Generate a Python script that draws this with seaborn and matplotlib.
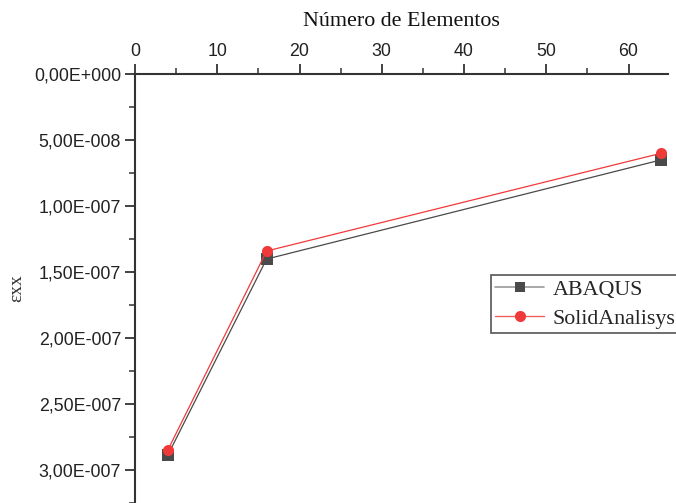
import matplotlib
matplotlib.use("Agg")
import matplotlib.pyplot as plt
from matplotlib.ticker import FuncFormatter, MultipleLocator
from matplotlib.lines import Line2D
import numpy as np
import pandas as pd
import seaborn as sns

# Mesh refinement study: strain εxx versus number of elements
elementos = [4, 16, 64]
abaqus = [2.886e-7, 1.402e-7, 6.50e-8]
solid = [2.848e-7, 1.341e-7, 6.00e-8]
series = ["ABAQUS", "SolidAnalisys"]

df = pd.DataFrame({
    "Elementos": elementos * 2,
    "exx": abaqus + solid,
    "Serie": [series[0]] * 3 + [series[1]] * 3,
})

sns.set_style("white")
plt.rcParams["font.family"] = ["Liberation Sans", "DejaVu Sans"]

fig = plt.figure(figsize=(6.76, 5.03), dpi=100)
ax = fig.add_axes([135 / 676, 0.0, 533 / 676, 1 - 74 / 503])

palette = {"ABAQUS": "#4a4a4a", "SolidAnalisys": "#f03a3a"}
markers = {"ABAQUS": "s", "SolidAnalisys": "o"}
sns.lineplot(data=df, x="Elementos", y="exx", hue="Serie", style="Serie",
             palette=palette, markers=markers, dashes=False, markersize=8,
             markeredgewidth=0, linewidth=0.9, ax=ax, legend=False)

ax.set_xlim(0, 64.8)
ax.set_ylim(3.25e-7, 0)

ax.xaxis.set_ticks_position("top")
ax.xaxis.set_label_position("top")
ax.xaxis.set_major_locator(MultipleLocator(10))
ax.xaxis.set_minor_locator(MultipleLocator(5))
ax.yaxis.set_major_locator(MultipleLocator(5e-8))
ax.yaxis.set_minor_locator(MultipleLocator(2.5e-8))


def sci_comma(v, pos):
    if abs(v) < 1e-20:
        return "0,00E+000"
    exp = int(np.floor(np.log10(abs(v))))
    mant = v / 10 ** exp
    sign = "+" if exp >= 0 else "-"
    return f"{mant:.2f}".replace(".", ",") + f"E{sign}{abs(exp):03d}"


ax.yaxis.set_major_formatter(FuncFormatter(sci_comma))

for side in ["right", "bottom"]:
    ax.spines[side].set_visible(False)
for side in ["left", "top"]:
    ax.spines[side].set_color("#333333")
    ax.spines[side].set_linewidth(1.5)

ax.tick_params(which="major", direction="out", length=7, width=1.3,
               color="#333333", labelsize=12.8, labelcolor="#222222", pad=3)
ax.tick_params(which="minor", direction="out", length=4, width=1.1,
               color="#333333")
ax.tick_params(axis="x", which="both", top=True, bottom=False,
               labeltop=True, labelbottom=False)
ax.tick_params(axis="y", which="both", left=True)

ax.set_xlabel("Número de Elementos", family="Liberation Serif",
              fontsize=15.8, color="#111111", labelpad=12)
ax.set_ylabel("εxx", family="Liberation Serif", fontsize=14,
              color="#333333")
ax.yaxis.set_label_coords(-0.205, 0.5)

# Legend handles built to mirror the plotted series
handles = [
    Line2D([], [], color="#999999", linewidth=1.2, marker="s",
           markersize=7, markerfacecolor="#4a4a4a", markeredgewidth=0),
    Line2D([], [], color="#f06060", linewidth=1.0, marker="o",
           markersize=8, markerfacecolor="#f03a3a", markeredgewidth=0),
]
leg = fig.legend(handles, series, loc="upper left",
                 bbox_to_anchor=(491 / 676, 1 - 275 / 503),
                 prop={"family": "Liberation Serif", "size": 15.8},
                 frameon=True, fancybox=False, framealpha=1,
                 handlelength=2.2, handletextpad=0.4, borderpad=0.2,
                 labelspacing=0.4, borderaxespad=0)
leg.get_frame().set_edgecolor("#555555")
leg.get_frame().set_linewidth(1.2)

fig.savefig("out.png", dpi=100)
